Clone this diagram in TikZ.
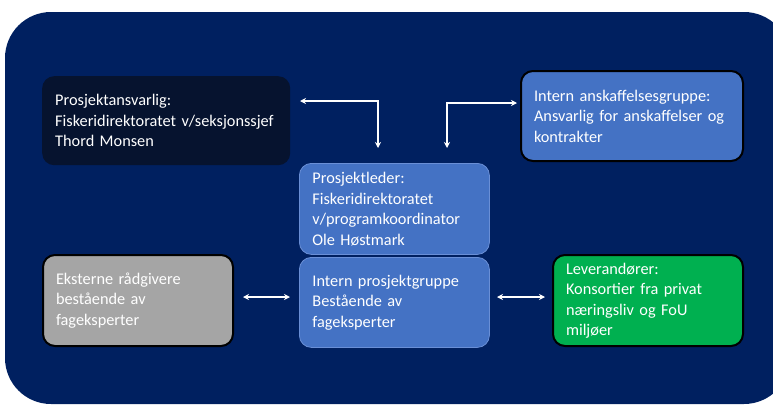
\documentclass[tikz,border=0pt]{standalone}
\usepackage{fontspec}
\setmainfont{Carlito}[WordSpace=0.85]
\usetikzlibrary{arrows.meta}
\definecolor{bgnavy}{HTML}{002060}
\definecolor{darkbox}{HTML}{06132F}
\definecolor{midblue}{HTML}{4472C4}
\definecolor{midblueline}{HTML}{6A8FD6}
\definecolor{greybox}{HTML}{A5A5A5}
\definecolor{greenbox}{HTML}{00B050}
\tikzset{
  x=1pt,y=-1pt,
  box/.style={rectangle, rounded corners=12pt, anchor=north west, align=left,
    text=white, inner xsep=13pt, inner ysep=0pt,
    font=\fontsize{16.3}{20.5}\selectfont},
  blackedge/.style={draw=black, line width=2pt},
  blueedge/.style={draw=midblueline, line width=0.8pt},
  link/.style={white, line width=1.8pt, {Stealth[length=6pt,width=6pt]}-{Stealth[length=6pt,width=6pt]}}
}
\begin{document}
\begin{tikzpicture}
\useasboundingbox (0,0) rectangle (773,405);
\clip (0,0) rectangle (773,405);
\fill[bgnavy, rounded corners=46pt] (5,12) rectangle (790,404);
% boxes
\node[box, fill=darkbox, minimum width=248pt, minimum height=89pt, text width=222pt] (pa) at (42,76)
  {Prosjektansvarlig:\\Fiskeridirektoratet v/seksjonssjef\\Thord Monsen};
\node[box, blackedge, fill=midblue, minimum width=222pt, minimum height=90pt, text width=196pt] (ia) at (520,70)
  {Intern anskaffelsesgruppe:\\Ansvarlig for anskaffelser og\\kontrakter};
\node[box, blueedge, fill=midblue, minimum width=190pt, minimum height=91pt, text width=164pt] (pl) at (299,163)
  {Prosjektleder:\\Fiskeridirektoratet\\v/programkoordinator\\Ole Høstmark};
\node[box, blueedge, fill=midblue, minimum width=190pt, minimum height=90pt, text width=164pt] (ip) at (299,257)
  {Intern prosjektgruppe\\Bestående av\\fageksperter};
\node[box, blackedge, fill=greybox, minimum width=190pt, minimum height=91pt, text width=164pt] (er) at (42,254)
  {Eksterne rådgivere\\bestående av\\fageksperter};
\node[box, blackedge, fill=greenbox, minimum width=190pt, minimum height=91pt, text width=164pt] (lv) at (552,254)
  {Leverandører:\\Konsortier fra privat\\næringsliv og FoU\\miljøer};
% connector end points
\coordinate (a1) at (300,101);
\coordinate (a2) at (378,148);
\coordinate (b1) at (447,148);
\coordinate (b2) at (517,103);
\coordinate (c1) at (243,297);
\coordinate (c2) at (290,297);
\coordinate (d1) at (497,297);
\coordinate (d2) at (545,297);
\draw[link] (a1) -| (a2);
\draw[link] (b1) |- (b2);
\draw[link] (c1) -- (c2);
\draw[link] (d1) -- (d2);
\end{tikzpicture}
\end{document}
